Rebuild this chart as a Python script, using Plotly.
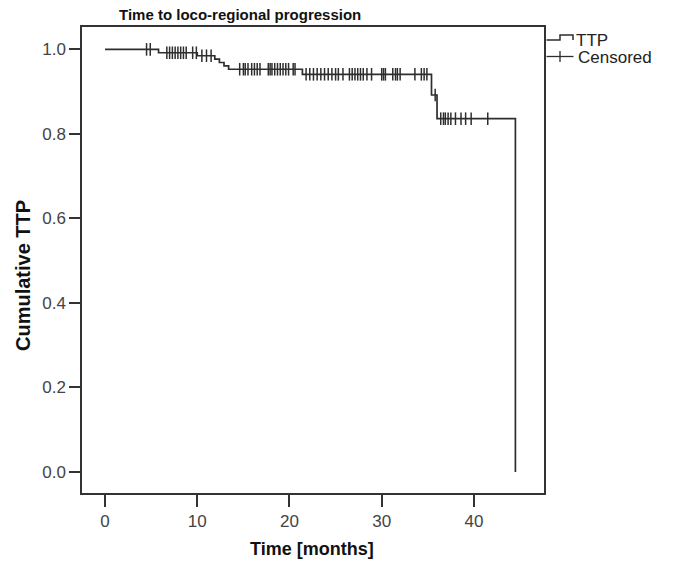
import plotly.graph_objects as go
import numpy as np

# Kaplan-Meier step curve (time in months, cumulative TTP)
step_times = [0, 5.8, 10.0, 11.9, 12.4, 12.9, 13.4, 21.4, 35.4, 36.0, 44.5]
step_surv = [1.0, 0.992, 0.985, 0.977, 0.969, 0.961, 0.953, 0.941, 0.892, 0.836, 0.0]

# censored observation times
censor_times = [4.5, 4.9,
                6.7, 7.0, 7.3, 7.6, 7.9, 8.2, 8.5, 8.8, 9.5, 9.9,
                10.5, 11.0, 11.5,
                14.6, 15.0, 15.2, 15.5, 15.9, 16.2, 16.5, 16.8, 17.7, 17.9, 18.1,
                18.4, 18.7, 19.0, 19.3, 19.6, 19.9, 20.4, 20.6,
                21.8, 22.2, 22.6, 23.0, 23.4, 23.8, 24.2, 24.6, 25.0, 25.3, 25.8,
                26.5, 26.8, 27.1, 27.4, 27.7, 28.0, 28.4, 28.9, 30.0, 30.2, 30.4,
                31.2, 31.5, 31.7, 32.0, 33.6, 34.3, 34.6, 34.9,
                35.8,
                36.4, 36.7, 36.9, 37.2, 37.5, 38.0, 38.6, 39.1, 39.7, 41.5]

x_ticks = [0, 10, 20, 30, 40]
y_ticks = [0.0, 0.2, 0.4, 0.6, 0.8, 1.0]

title_text = "Time to loco-regional progression"
x_title = "Time [months]"
y_title = "Cumulative TTP"
legend_labels = ["TTP", "Censored"]

# survival level at each censor time (from the step function)
st = np.array(step_times)
ss = np.array(step_surv)
censor_surv = [float(ss[np.searchsorted(st, t, side="right") - 1]) for t in censor_times]

LINE = "#2e2e2e"
FONT = "Liberation Sans, Arial, sans-serif"

fig = go.Figure()
fig.add_trace(go.Scatter(x=step_times, y=step_surv, mode="lines",
                         line=dict(shape="hv", color=LINE, width=1.7),
                         showlegend=False, hoverinfo="skip"))
fig.add_trace(go.Scatter(x=censor_times, y=censor_surv, mode="markers",
                         marker=dict(symbol="line-ns", size=9,
                                     line=dict(color=LINE, width=1.5)),
                         showlegend=False))

# geometry of plot area in pixels
L, R, T, B = 82, 544, 27, 493
W, H = R - L, B - T
def px(x):
    return (x - L) / W
def py(y):
    return (B - y) / H

shapes = [
    # legend step glyph
    dict(type="path", xref="paper", yref="paper",
         path=f"M {px(546.5)} {py(40)} L {px(560)} {py(40)} L {px(560)} {py(35)} "
              f"L {px(573)} {py(35)} L {px(573)} {py(40)}",
         line=dict(color=LINE, width=1.5)),
    # legend censored glyph
    dict(type="line", xref="paper", yref="paper",
         x0=px(546.5), x1=px(573.5), y0=py(56.5), y1=py(56.5),
         line=dict(color=LINE, width=1.3)),
    dict(type="line", xref="paper", yref="paper",
         x0=px(560), x1=px(560), y0=py(51), y1=py(62),
         line=dict(color=LINE, width=1.3)),
]

annotations = [
    dict(text=f"<b>{title_text}</b>", xref="paper", yref="paper",
         x=px(240), y=py(15), xanchor="center", yanchor="middle",
         showarrow=False, font=dict(size=15, color="#111", family=FONT)),
    dict(text=f"<b>{x_title}</b>", xref="paper", yref="paper",
         x=px(312), y=py(549), xanchor="center", yanchor="middle",
         showarrow=False, font=dict(size=18, color="#111", family=FONT)),
    dict(text=f"<b>{y_title}</b>", xref="paper", yref="paper",
         x=px(23), y=py(276), xanchor="center", yanchor="middle", textangle=-90,
         showarrow=False, font=dict(size=20, color="#111", family=FONT)),
    dict(text=legend_labels[0], xref="paper", yref="paper",
         x=px(574), y=py(40.5), xanchor="left", yanchor="middle",
         showarrow=False, font=dict(size=17, color="#222", family=FONT)),
    dict(text=legend_labels[1], xref="paper", yref="paper",
         x=px(576), y=py(57.5), xanchor="left", yanchor="middle",
         showarrow=False, font=dict(size=17, color="#222", family=FONT)),
]

axis_common = dict(showgrid=False, zeroline=False, showline=True, mirror=True,
                   linecolor="#333", linewidth=1.5, ticks="outside",
                   tickcolor="#333", tickwidth=1.5,
                   tickfont=dict(size=17, color="#444", family=FONT))

fig.update_layout(
    width=675, height=565,
    margin=dict(l=L, r=675 - R, t=T, b=565 - B),
    paper_bgcolor="white", plot_bgcolor="white",
    showlegend=False,
    xaxis=dict(range=[-2.5, 47.6], tickvals=x_ticks, ticklen=12, **axis_common),
    yaxis=dict(range=[-0.05, 1.053], tickvals=y_ticks, tickformat=".1f",
               ticklen=11, **axis_common),
    shapes=shapes, annotations=annotations,
)

fig.write_html("out.html")
